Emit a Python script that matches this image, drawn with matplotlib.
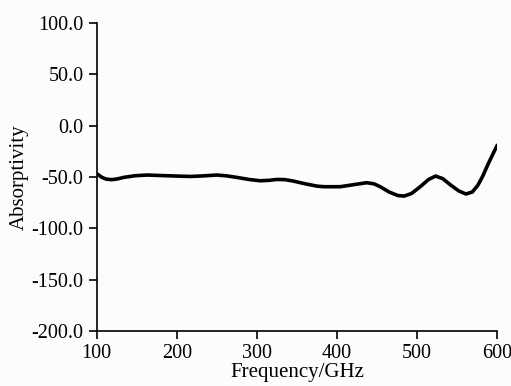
import matplotlib
matplotlib.use("Agg")
import matplotlib.pyplot as plt

# Values
freq = [100, 106, 112, 119, 126, 134, 148, 163, 180, 200, 217, 234, 250, 262,
        275, 290, 304, 315, 325, 335, 345, 360, 375, 384, 404, 420, 437, 446,
        454, 465, 476, 484, 493, 504, 514, 523, 532, 542, 552, 561, 569, 576,
        582, 589, 595, 600]
absorp = [-46.5, -50.0, -52.0, -52.5, -51.8, -50.3, -48.7, -48.0, -48.5, -49.0,
          -49.4, -48.8, -48.0, -48.8, -50.3, -52.3, -53.6, -53.2, -52.3, -52.5,
          -53.8, -56.5, -58.8, -59.4, -59.4, -57.5, -55.5, -56.5, -59.4, -64.5,
          -68.0, -68.5, -66.0, -59.4, -52.5, -49.0, -51.5, -57.8, -63.5, -66.5,
          -64.5, -57.8, -49.0, -36.7, -27.0, -19.0]

xticks = [100, 200, 300, 400, 500, 600]
yticks = [-200, -150, -100, -50, 0, 50, 100]

plt.rcParams['font.family'] = ['Liberation Serif', 'DejaVu Serif']

fig = plt.figure(figsize=(5.11, 3.86), dpi=100)
fig.patch.set_facecolor('#fcfcfc')
ax = fig.add_axes([0.189, 0.1425, 0.784, 0.7975])
ax.set_facecolor('#fcfcfc')

ax.plot(freq, absorp, color='black', linewidth=2.6, solid_capstyle='round',
        solid_joinstyle='round')

ax.set_xlim(100, 600)
ax.set_ylim(-200, 100)
ax.set_xticks(xticks)
ax.set_yticks(yticks)
ax.set_yticklabels([f"{v:.1f}" for v in yticks])
ax.tick_params(direction='out', length=5.5, width=1.2, labelsize=14.5, pad=4)

for side in ('top', 'right'):
    ax.spines[side].set_visible(False)
for side in ('left', 'bottom'):
    ax.spines[side].set_linewidth(1.2)

ax.set_xlabel('Frequency/GHz', fontsize=15, labelpad=0)
ax.set_ylabel('Absorptivity', fontsize=15, labelpad=2)

plt.savefig("out.png", dpi=100, facecolor=fig.get_facecolor())
